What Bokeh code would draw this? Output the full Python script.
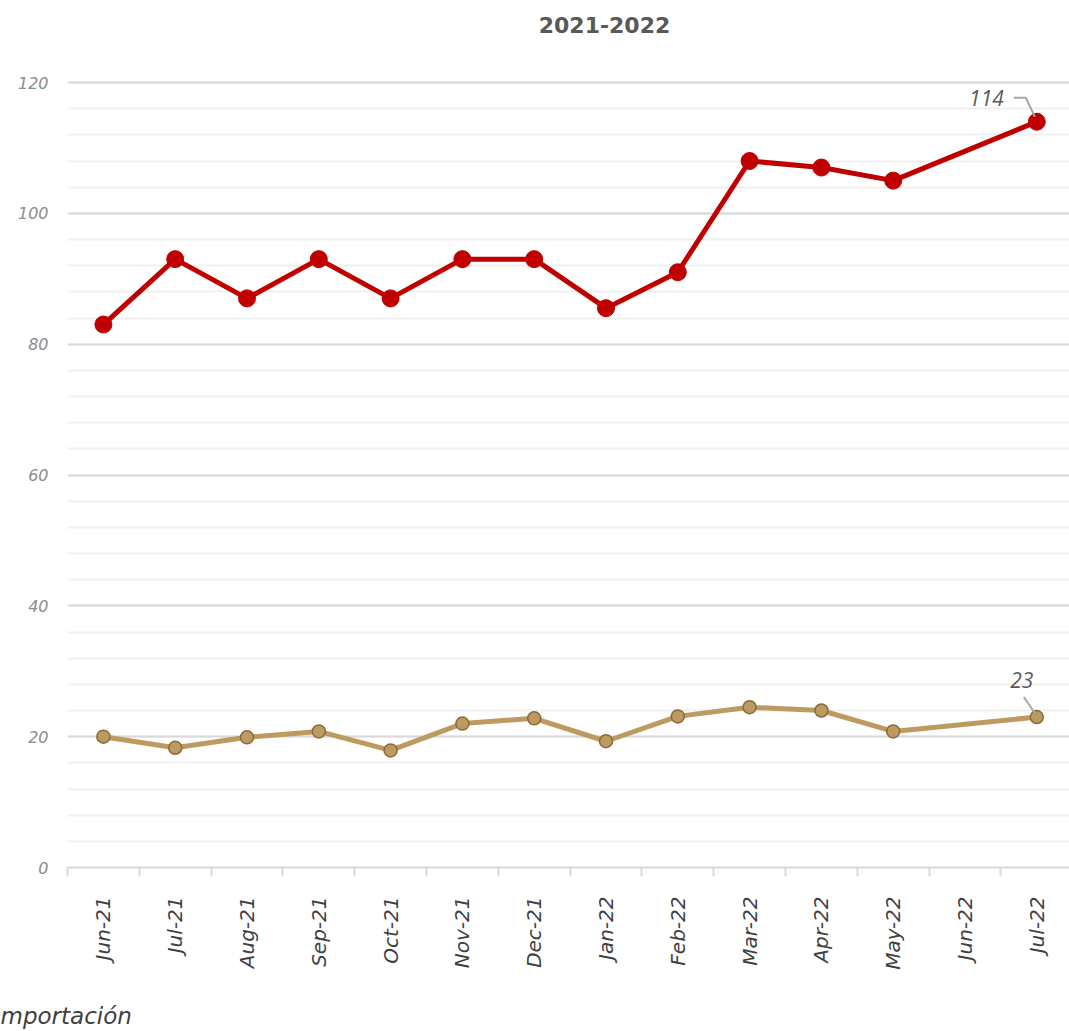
import math
from bokeh.plotting import figure
from bokeh.models import Range1d, FixedTicker, Title
from bokeh.core.properties import value
from bokeh.embed import file_html
from bokeh.resources import INLINE

months = ["Jun-21", "Jul-21", "Aug-21", "Sep-21", "Oct-21", "Nov-21", "Dec-21",
          "Jan-22", "Feb-22", "Mar-22", "Apr-22", "May-22", "Jun-22", "Jul-22"]
serie_roja = [83, 93, 87, 93, 87, 93, 93, 85.5, 91, 108, 107, 105, None, 114]
serie_cafe = [20, 18.3, 19.9, 20.8, 17.9, 22, 22.8, 19.3, 23.1, 24.5, 24, 20.8, None, 23]
y_ticks = [0, 20, 40, 60, 80, 100, 120]
y_minor = list(range(0, 121, 4))
titulo = "2021-2022"
leyenda = "mportación"

RED = "#c00000"
TAN = "#bd9a5f"
TAN_EDGE = "#8a6a3a"
FONT = "Open Sans"
AXFONT = "DejaVu Sans"

FRAME_W = 1002
PX_X = 71.8
X_END = -0.5 + FRAME_W / PX_X
PX_Y = 785 / 120.0
BOTTOM = 164
FRAME_H = 1031 - BOTTOM
Y_END = FRAME_H / PX_Y

p = figure(width=1069, height=1031, x_range=Range1d(-0.5, X_END), y_range=Range1d(0, Y_END),
           title=None, output_backend="svg", toolbar_location=None,
           min_border_left=67, min_border_right=0, min_border_top=0, min_border_bottom=BOTTOM)
p.outline_line_color = None
p.background_fill_color = "white"
p.border_fill_color = "white"

# x axis
p.xaxis.ticker = FixedTicker(ticks=list(range(len(months))),
                             minor_ticks=[i - 0.5 for i in range(len(months) + 1)])
p.xaxis.major_label_overrides = {i: m for i, m in enumerate(months)}
p.xaxis.major_label_orientation = math.pi / 2
p.xaxis.major_tick_line_color = None
p.xaxis.minor_tick_line_color = "#d9d9d9"
p.xaxis.minor_tick_line_width = 2
p.xaxis.minor_tick_out = 9
p.xaxis.minor_tick_in = 0
p.xaxis.axis_line_color = "#d9d9d9"
p.xaxis.axis_line_width = 2
p.xaxis.major_label_text_font = AXFONT
p.xaxis.major_label_text_font_style = "italic"
p.xaxis.major_label_text_font_size = "20px"
p.xaxis.major_label_text_color = "#404040"
p.xaxis.major_label_standoff = 20
# blank axis label used only as spacing before the note below
p.xaxis.axis_label = " "
p.xaxis.axis_label_text_font_size = "10px"
p.xaxis.axis_label_standoff = 14
p.xgrid.visible = False

# y axis
p.yaxis.ticker = FixedTicker(ticks=y_ticks, minor_ticks=y_minor)
p.yaxis.axis_line_color = None
p.yaxis.major_tick_line_color = None
p.yaxis.minor_tick_line_color = None
p.yaxis.major_label_text_font = AXFONT
p.yaxis.major_label_text_font_style = "italic"
p.yaxis.major_label_text_font_size = "16px"
p.yaxis.major_label_text_color = "#8c8c8c"
p.yaxis.major_label_standoff = 13
p.ygrid.grid_line_color = "#d9d9d9"
p.ygrid.grid_line_width = 2
p.ygrid.minor_grid_line_color = "#f0f0f0"
p.ygrid.minor_grid_line_width = 2

def valid(series):
    xs = [i for i, v in enumerate(series) if v is not None]
    ys = [v for v in series if v is not None]
    return xs, ys

xr, yr = valid(serie_roja)
xc, yc = valid(serie_cafe)

p.line(xc, yc, line_color=TAN, line_width=5)
p.scatter(xc, yc, size=13, fill_color=TAN, line_color=TAN_EDGE, line_width=1.5)
p.line(xr, yr, line_color=RED, line_width=5)
p.scatter(xr, yr, size=17, fill_color=RED, line_color=RED)

# data labels on last points
lx, ly = xr[-1], yr[-1]
p.line([lx - 23 / PX_X, lx - 11 / PX_X, lx - 2 / PX_X],
       [ly + 24 / PX_Y, ly + 24 / PX_Y, ly + 5 / PX_Y], line_color="#a6a6a6", line_width=2)
p.text([lx], [ly], text=[f"{ly:g}"], x_offset=-33, y_offset=-24,
       text_font=value(FONT), text_font_style="italic", text_font_size="21px",
       text_color="#595959", text_align="right", text_baseline="middle")

cx, cy = xc[-1], yc[-1]
p.line([cx - 13 / PX_X, cx - 2 / PX_X], [cy + 20 / PX_Y, cy + 4 / PX_Y],
       line_color="#a6a6a6", line_width=2)
p.text([cx], [cy], text=[f"{cy:g}"], x_offset=-15, y_offset=-37,
       text_font=value(FONT), text_font_style="italic", text_font_size="21px",
       text_color="#595959", text_align="center", text_baseline="middle")

# chart title (inside the top strip of the frame, above the 120 line)
p.text([-0.5 + (604 - 67) / PX_X], [120 + (82 - 24) / PX_Y], text=[titulo],
       text_font=value(AXFONT), text_font_style="bold", text_font_size="22px",
       text_color="#595959", text_align="center", text_baseline="middle")

# clipped legend text below the axis
p.add_layout(Title(text=leyenda, align="left", offset=-67, text_font=AXFONT,
                   text_font_style="italic", text_font_size="23px",
                   text_color="#404040", standoff=0), "below")

open("out.html", "w").write(file_html(p, INLINE))
